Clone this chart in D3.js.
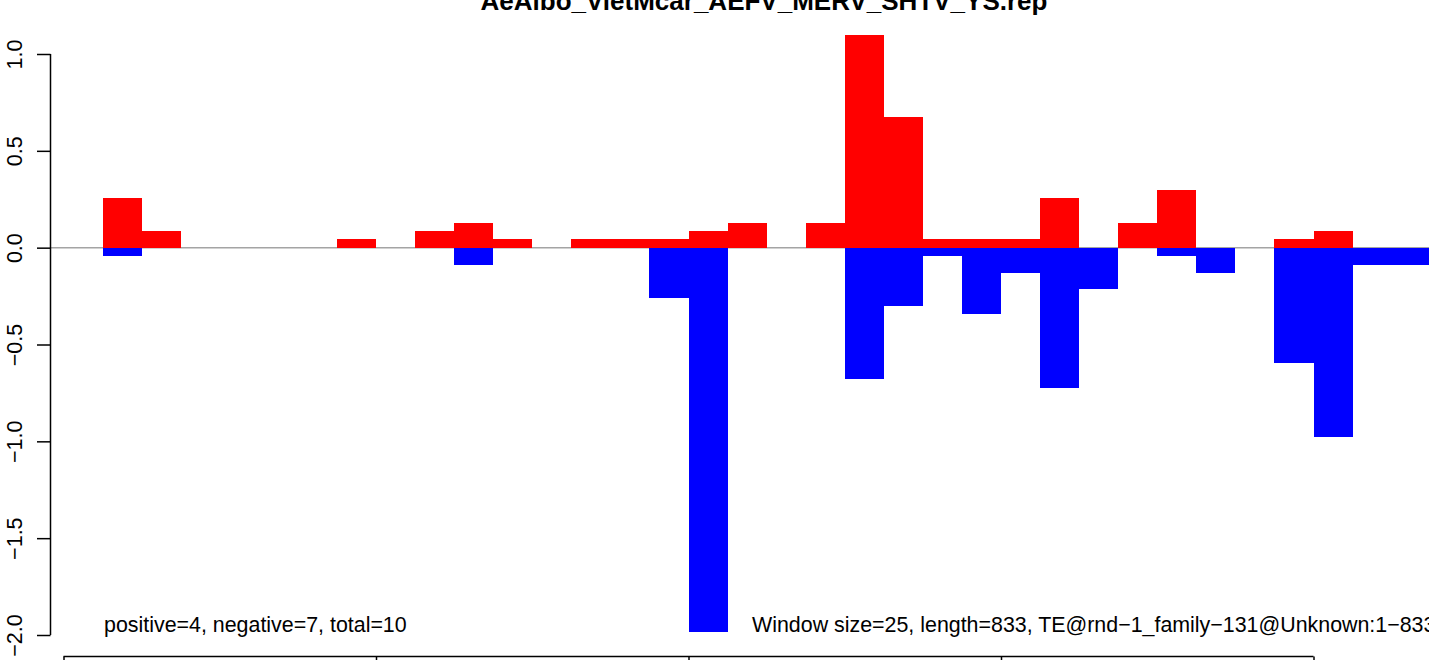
<!DOCTYPE html>
<html>
<head>
<meta charset="utf-8">
<script src="https://cdn.jsdelivr.net/npm/d3@7"></script>
<style>
	body { margin: 0; background: #fff; }
	svg { display: block; font-family: "Liberation Sans", Arial, sans-serif; }
</style>
</head>
<body>
<div id="chart"></div>
<script>
// window start positions (bp) and the value of each window
let windowStarts = [25, 50, 75, 100, 125, 150, 175, 200, 225, 250, 275, 300, 325, 350, 375, 400, 425,
	450, 475, 500, 525, 550, 575, 600, 625, 650, 675, 700, 725, 750, 775, 800, 825, 850];
let positiveVals = [0.257, 0.086, 0, 0, 0, 0, 0.045, 0, 0.086, 0.128, 0.045, 0, 0.045, 0.045, 0.045, 0.086, 0.128,
	0, 0.128, 1.098, 0.675, 0.045, 0.045, 0.045, 0.257, 0, 0.128, 0.298, 0, 0, 0.045, 0.086, 0, 0];
let negativeVals = [-0.045, 0, 0, 0, 0, 0, 0, 0, 0, -0.088, 0, 0, 0, 0, -0.258, -1.984, 0,
	0, 0, -0.678, -0.300, -0.045, -0.343, -0.131, -0.724, -0.213, 0, -0.045, -0.131, 0, -0.594, -0.976, -0.089, -0.089];
let windowSize = 25;

let xTicks = [0, 200, 400, 600, 800];
let yTicks = [-2.0, -1.5, -1.0, -0.5, 0.0, 0.5, 1.0];

let titleText = "AeAlbo_VietMcar_AEFV_MERV_SHTV_YS.rep";
let leftNote = "positive=4, negative=7, total=10";
let rightNote = "Window size=25, length=833, TE@rnd\u22121_family\u2212131@Unknown:1\u2212833";

let width = 1429;
let height = 660;

let svg = d3.select('#chart')
	.append('svg')
	.attr('width', width)
	.attr('height', height);

let xScale = d3.scaleLinear()
	.domain([0, 800])
	.range([63.5, 1313.5]);

let yScale = d3.scaleLinear()
	.domain([-2, 1])
	.range([635, 54]);

// zero line (drawn under the bars)
svg.append('line')
	.attr('x1', 50.5)
	.attr('x2', width)
	.attr('y1', yScale(0))
	.attr('y2', yScale(0))
	.attr('stroke', '#a4a4a4')
	.attr('stroke-width', 1.5);

let bars = windowStarts.map((s, i) => ({ start: s, pos: positiveVals[i], neg: negativeVals[i] }));

svg.selectAll('rect.pos')
	.data(bars.filter(d => d.pos > 0))
	.enter()
	.append('rect')
	.attr('class', 'pos')
	.attr('x', d => xScale(d.start))
	.attr('width', d => xScale(d.start + windowSize) - xScale(d.start))
	.attr('y', d => yScale(d.pos))
	.attr('height', d => yScale(0) - yScale(d.pos))
	.attr('fill', '#ff0000')
	.attr('shape-rendering', 'crispEdges');

svg.selectAll('rect.neg')
	.data(bars.filter(d => d.neg < 0))
	.enter()
	.append('rect')
	.attr('class', 'neg')
	.attr('x', d => xScale(d.start))
	.attr('width', d => xScale(d.start + windowSize) - xScale(d.start))
	.attr('y', yScale(0))
	.attr('height', d => yScale(d.neg) - yScale(0))
	.attr('fill', '#0000ff')
	.attr('shape-rendering', 'crispEdges');

// axes
let yAxis = svg.append('g')
	.attr('transform', 'translate(50.5,0)')
	.call(d3.axisLeft(yScale).tickValues(yTicks).tickSize(13.5).tickFormat(d3.format('.1f')));
yAxis.select('.domain').attr('d', `M0,${yScale(-2)}V${yScale(1)}`).attr('stroke-width', 1.5);
yAxis.selectAll('.tick line').attr('stroke-width', 1.5);
yAxis.selectAll('.tick text')
	.attr('font-size', 21.5)
	.attr('fill', '#000')
	.attr('transform', 'rotate(-90)')
	.attr('x', 0)
	.attr('y', -29)
	.attr('dy', 0)
	.style('text-anchor', 'middle');

// x axis: its labels sit below the visible area, so only line and ticks are drawn
let xAxis = svg.append('g')
	.attr('transform', 'translate(0,656.5)')
	.call(d3.axisBottom(xScale).tickValues(xTicks).tickSize(13.5).tickFormat(''));
xAxis.select('.domain').attr('d', `M${xScale(0)},0H${xScale(800)}`).attr('stroke-width', 1.5);
xAxis.selectAll('.tick line').attr('stroke-width', 1.5);

// title
svg.append('text')
	.attr('x', 764)
	.attr('y', 10)
	.attr('text-anchor', 'middle')
	.attr('font-size', 26)
	.attr('font-weight', 'bold')
	.text(titleText);

// notes
svg.append('text')
	.attr('x', 104)
	.attr('y', 632)
	.attr('font-size', 21.4)
	.text(leftNote);

svg.append('text')
	.attr('x', 752)
	.attr('y', 632)
	.attr('font-size', 21.4)
	.text(rightNote);
</script>
</body>
</html>
